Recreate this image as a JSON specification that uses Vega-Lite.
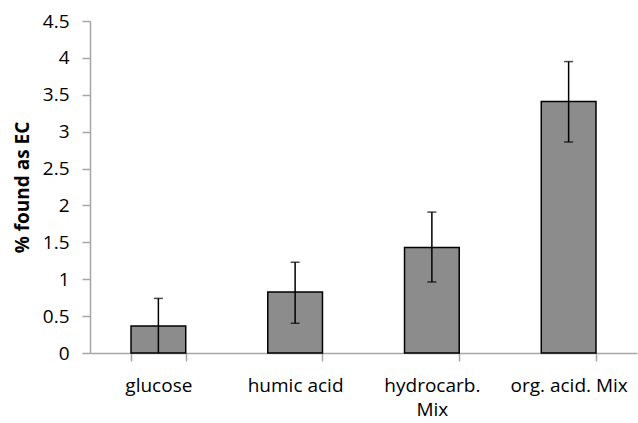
{
  "$schema": "https://vega.github.io/schema/vega-lite/v6.json",
  "autosize": "none",
  "width": 547,
  "height": 332,
  "padding": {"left": 90, "top": 21, "right": 1, "bottom": 70},
  "background": "white",
  "data": {
    "values": [
      {"cat": "glucose", "value": 0.365, "lo": 0, "hi": 0.74},
      {"cat": "humic acid", "value": 0.828, "lo": 0.403, "hi": 1.23},
      {"cat": "hydrocarb. Mix", "value": 1.43, "lo": 0.963, "hi": 1.91},
      {"cat": "org. acid. Mix", "value": 3.41, "lo": 2.86, "hi": 3.95}
    ]
  },
  "config": {
    "view": {"stroke": null},
    "font": "Open Sans",
    "axis": {
      "labelFont": "Open Sans", "titleFont": "Open Sans", "labelColor": "black", "titleColor": "black",
      "labelFontSize": 19, "titleFontSize": 19, "grid": false,
      "domainColor": "#a6a6a6", "domainWidth": 1.5, "tickColor": "#a6a6a6", "tickWidth": 1.5, "tickSize": 8
    },
    "axisY": {"titleFontWeight": "bold", "titlePadding": 10, "labelPadding": 13, "format": "~g"},
    "axisX": {"labelAngle": 0, "labelPadding": 15, "labelLineHeight": 24, "labelBaseline": "top", "tickBand": "extent"}
  },
  "encoding": {
    "x": {
      "field": "cat", "type": "nominal", "sort": null,
      "scale": {"paddingInner": 0.6, "paddingOuter": 0.3},
      "axis": {
        "title": null,
        "labelExpr": "datum.label == 'hydrocarb. Mix' ? ['hydrocarb.', 'Mix'] : datum.label"
      }
    }
  },
  "layer": [
    {
      "mark": {"type": "bar", "color": "#8c8c8c", "stroke": "black", "strokeWidth": 1.5},
      "encoding": {
        "y": {
          "field": "value", "type": "quantitative",
          "scale": {"domain": [0, 4.5], "nice": false},
          "axis": {"title": "% found as EC", "values": [0, 0.5, 1, 1.5, 2, 2.5, 3, 3.5, 4, 4.5]}
        }
      }
    },
    {
      "mark": {"type": "rule", "color": "black", "strokeWidth": 1.5},
      "encoding": {
        "y": {"field": "lo", "type": "quantitative", "axis": {"title": "% found as EC", "values": [0, 0.5, 1, 1.5, 2, 2.5, 3, 3.5, 4, 4.5]}},
        "y2": {"field": "hi"}
      }
    },
    {
      "mark": {"type": "tick", "color": "black", "thickness": 1.5, "size": 9, "orient": "horizontal"},
      "encoding": {"y": {"field": "hi", "type": "quantitative", "axis": {"title": "% found as EC", "values": [0, 0.5, 1, 1.5, 2, 2.5, 3, 3.5, 4, 4.5]}}}
    },
    {
      "transform": [{"filter": "datum.lo > 0"}],
      "mark": {"type": "tick", "color": "black", "thickness": 1.5, "size": 9, "orient": "horizontal"},
      "encoding": {"y": {"field": "lo", "type": "quantitative", "axis": {"title": "% found as EC", "values": [0, 0.5, 1, 1.5, 2, 2.5, 3, 3.5, 4, 4.5]}}}
    }
  ]
}
